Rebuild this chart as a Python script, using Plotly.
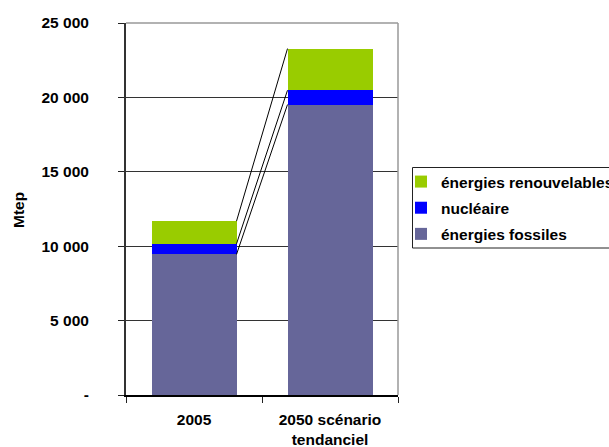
import plotly.graph_objects as go

# Scenario labels and energy mix (Mtep)
categories = ["2005", "2050 scénario<br>tendanciel"]
fossiles = [9450, 19520]
nucleaire = [710, 960]
renouvelables = [1525, 2800]

y_tickvals = [0, 5000, 10000, 15000, 20000, 25000]
y_ticktext = ["-", "5 000", "10 000", "15 000", "20 000", "25 000"]

series = [
    ("énergies fossiles", fossiles, "#666699"),
    ("nucléaire", nucleaire, "#0000FF"),
    ("énergies renouvelables", renouvelables, "#99CC00"),
]

FONT = "Liberation Sans, Arial, sans-serif"
FS = 15.5
BAR_WIDTH = 0.625

# plot area in pixels
L, R, T, B = 126, 398, 23, 395
PW, PH = R - L, B - T


def px_x(x):
    return (x - L) / PW


def px_y(y):
    return (B - y) / PH


fig = go.Figure()

for i, (name, vals, color) in enumerate(series):
    fig.add_trace(go.Bar(
        x=categories, y=vals, name=f"<b>{name}</b>",
        marker=dict(color=color, line=dict(width=0)),
        width=BAR_WIDTH, legendgroup=f"g{i}", legendrank=len(series) - i,
    ))

# Series lines joining the top of each stacked segment between the two bars
cum = [0, 0]
for name, vals, color in series:
    cum = [cum[0] + vals[0], cum[1] + vals[1]]
    fig.add_trace(go.Scatter(
        x=[0 + BAR_WIDTH / 2, 1 - BAR_WIDTH / 2], y=list(cum),
        xaxis="x2", mode="lines",
        line=dict(color="black", width=1),
        showlegend=False, hoverinfo="skip",
    ))

fig.update_layout(
    width=609, height=447,
    margin=dict(l=L, r=609 - R, t=T, b=447 - B, autoexpand=False),
    paper_bgcolor="white", plot_bgcolor="white",
    barmode="stack",
    font=dict(family=FONT, size=FS, color="black"),
    showlegend=True,
    legend=dict(
        x=px_x(401), y=px_y(165), xanchor="left", yanchor="top",
        traceorder="grouped", tracegroupgap=3,
        borderwidth=0, bgcolor="rgba(0,0,0,0)",
        font=dict(family=FONT, size=FS, weight="bold"),
        itemwidth=30,
    ),
    xaxis=dict(
        type="category", range=[-0.5, 1.5],
        tickvals=categories,
        ticktext=[f"<b>{c}</b>" for c in categories],
        tickson="boundaries", ticks="outside", ticklen=6, tickwidth=1,
        tickcolor="#222222",
        showline=True, linecolor="black", linewidth=2,
        showgrid=False, zeroline=False,
        tickfont=dict(family=FONT, size=FS, weight="bold"),
        ticklabelstandoff=9,
        automargin=False,
    ),
    xaxis2=dict(
        overlaying="x", range=[-0.5, 1.5], visible=False,
    ),
    yaxis=dict(
        range=[0, 25000],
        tickvals=y_tickvals, ticktext=[f"<b>{t}</b>" for t in y_ticktext],
        ticks="outside", ticklen=6, tickwidth=1, tickcolor="#222222",
        showline=True, linecolor="#333333", linewidth=2,
        showgrid=True, gridcolor="#333333", gridwidth=1,
        zeroline=False,
        tickfont=dict(family=FONT, size=FS, weight="bold"),
        ticklabelstandoff=26,
        automargin=False,
    ),
    annotations=[
        dict(
            text="<b>Mtep</b>", textangle=-90, showarrow=False,
            xref="paper", yref="paper",
            x=px_x(18), y=px_y(210),
            xanchor="center", yanchor="middle",
            font=dict(family=FONT, size=FS, weight="bold"),
        )
    ],
    shapes=[
        # grey frame on the top and right of the plot area
        dict(type="line", xref="paper", yref="paper", x0=0, x1=1, y0=1, y1=1,
             line=dict(color="#999999", width=1.5)),
        dict(type="line", xref="paper", yref="paper", x0=1, x1=1, y0=0, y1=1,
             line=dict(color="#999999", width=1.5)),
        # legend frame
        dict(type="rect", xref="paper", yref="paper",
             x0=px_x(412.5), x1=px_x(640), y0=px_y(248), y1=px_y(167.5),
             line=dict(color="#222222", width=1), layer="below"),
    ],
)

fig.write_html("out.html")
